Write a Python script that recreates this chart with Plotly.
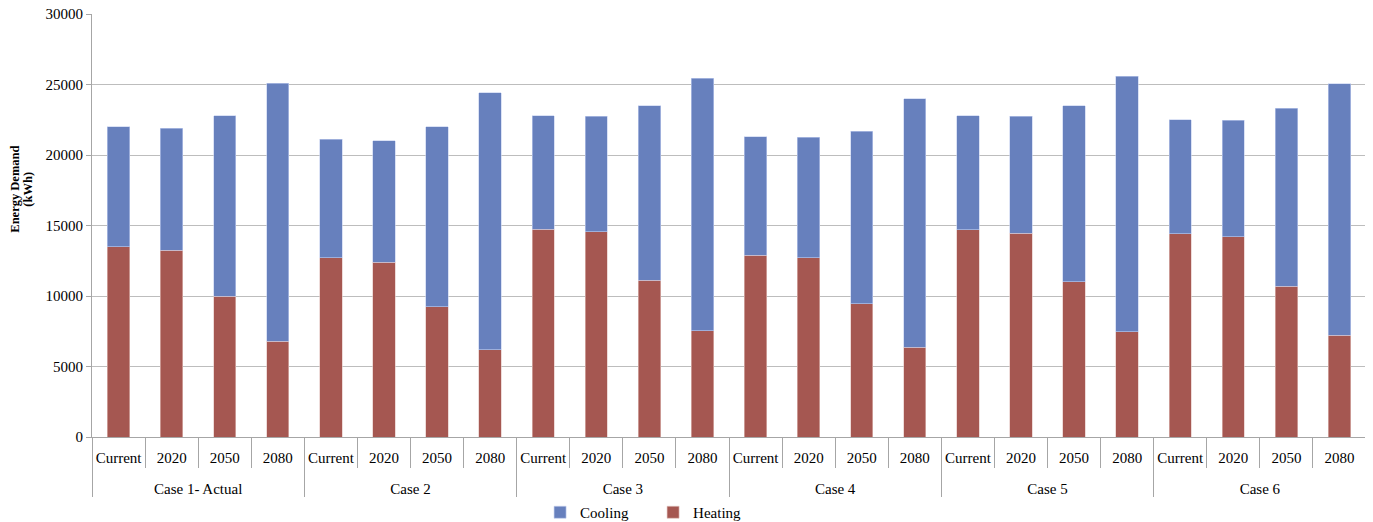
import plotly.graph_objects as go

cases = ["Case 1- Actual", "Case 2", "Case 3", "Case 4", "Case 5", "Case 6"]
periods = ["Current", "2020", "2050", "2080"]

totals = [
    22000, 21900, 22800, 25100,
    21100, 21000, 22000, 24400,
    22800, 22750, 23500, 25450,
    21300, 21250, 21700, 24000,
    22800, 22750, 23500, 25600,
    22500, 22450, 23300, 25050,
]
heating = [
    13500, 13250, 10000, 6800,
    12700, 12400, 9250, 6200,
    14750, 14550, 11100, 7550,
    12900, 12700, 9450, 6350,
    14700, 14450, 11000, 7450,
    14400, 14200, 10700, 7200,
]
cooling = [t - h for t, h in zip(totals, heating)]

title_lines = ["Energy Demand", "(kWh)"]

x_outer = [c for c in cases for _ in periods]
x_inner = [p + "<br> " for _ in cases for p in periods]

font_family = "Liberation Serif, Times New Roman, serif"

fig = go.Figure()
fig.add_trace(go.Bar(
    x=[x_outer, x_inner], y=heating, name="Heating",
    marker=dict(color="#A55751", line=dict(color="#E3C3C0", width=0.6)),
))
fig.add_trace(go.Bar(
    x=[x_outer, x_inner], y=cooling, name="Cooling",
    marker=dict(color="#6780BD", line=dict(color="#C3CFEE", width=0.6)),
))

annots = []
for txt, xp in zip(title_lines, [-0.0600, -0.0498]):
    annots.append(dict(
        text="<b>" + txt + "</b>", textangle=-90,
        xref="paper", yref="paper", x=xp, y=0.586,
        xanchor="center", yanchor="middle", showarrow=False,
        font=dict(size=12.5, family=font_family),
    ))

# page body has an 8px margin; figure sized so it lands like the reference
fig.update_layout(
    barmode="stack",
    bargap=0.58,
    width=1365, height=521,
    margin=dict(l=84, r=7, t=6, b=92),
    paper_bgcolor="white", plot_bgcolor="white",
    font=dict(family=font_family, size=15, color="black"),
    legend=dict(
        orientation="h", traceorder="reversed",
        xref="container", yref="container",
        x=0.3898, xanchor="left", y=0.0, yanchor="bottom",
        font=dict(size=15), entrywidth=68, itemwidth=30,
        bgcolor="rgba(0,0,0,0)",
    ),
    showlegend=True,
    annotations=annots,
)
fig.update_yaxes(
    range=[0, 30000], dtick=5000, tickformat="d",
    showgrid=True, gridcolor="#BDBDBD", gridwidth=1.3,
    showline=True, linecolor="#A6A6A6", linewidth=1,
    ticks="outside", ticklen=5, tickcolor="#A6A6A6",
    tickfont=dict(size=15), ticklabeloverflow="allow",
    zeroline=False, automargin=False,
)
fig.update_xaxes(
    type="multicategory",
    showline=True, linecolor="#A6A6A6", linewidth=1,
    ticks="outside", tickson="boundaries", ticklen=30, tickcolor="#A6A6A6",
    showdividers=True, dividercolor="#A6A6A6", dividerwidth=1,
    tickfont=dict(size=15), tickangle=0, ticklabelstandoff=7,
    showgrid=False, automargin=False,
)

fig.write_html("out.html")
